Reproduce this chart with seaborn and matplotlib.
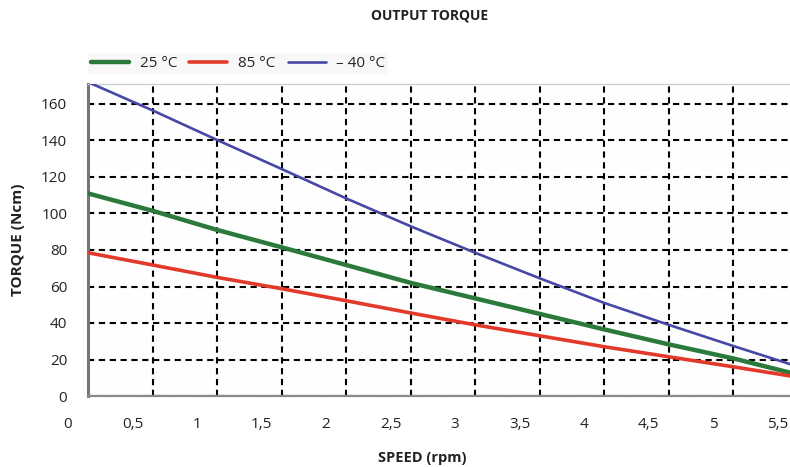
import matplotlib
matplotlib.use("Agg")
import matplotlib.pyplot as plt
import matplotlib.transforms as mtransforms
import numpy as np
import pandas as pd
import seaborn as sns

# speed values at the grid lines, plus the right edge of the chart
speed = [0.0, 0.5, 1.0, 1.5, 2.0, 2.5, 3.0, 3.5, 4.0, 4.5, 5.0, 5.44]
torque_25 = [111, 101.5, 91, 81.5, 71.8, 62, 53.5, 45, 36.5, 28.3, 20.6, 12.8]
torque_85 = [78.5, 71.8, 65, 58.8, 52.2, 45.5, 39, 33, 27, 21.5, 16, 11]
torque_m40 = [172, 156.5, 140.3, 124.4, 108.3, 93, 78.5, 64.5, 51, 39, 27.4, 17.5]

series_labels = ["25 °C", "85 °C", "– 40 °C"]
series_colors = ["#2b7a3b", "#e2392a", "#4747a6"]
series_widths = [3.2, 2.6, 1.9]

x_tick_labels = ["0", "0,5", "1", "1,5", "2", "2,5", "3", "3,5", "4", "4,5", "5", "5,5"]
y_ticks = [0, 20, 40, 60, 80, 100, 120, 140, 160]

df = pd.DataFrame({
    "speed": speed * 3,
    "torque": torque_25 + torque_85 + torque_m40,
    "temp": [series_labels[0]] * len(speed) + [series_labels[1]] * len(speed)
            + [series_labels[2]] * len(speed),
})

sns.set_style("white")
plt.rcParams["font.family"] = ["Open Sans", "DejaVu Sans"]

fig = plt.figure(figsize=(7.9, 4.67), dpi=100)
ax = fig.add_axes([88 / 790, 1 - 396 / 467, 1 - 88 / 790, (396 - 84) / 467])
ax.set_facecolor("#fefefe")

for lab, col, lw in zip(series_labels, series_colors, series_widths):
    sub = df[df["temp"] == lab]
    sns.lineplot(data=sub, x="speed", y="torque", color=col, linewidth=lw,
                 label=lab, ax=ax, zorder=3)

ax.set_xlim(0, 5.44)
ax.set_ylim(0, (396 - 84) / 1.825)

# dashed black grid
ax.set_xticks(np.arange(0.5, 5.01, 0.5))
ax.set_xticklabels([])
ax.set_xticks(np.arange(0.1, 5.44, 0.1), minor=True)
ax.set_yticks(y_ticks)
ax.set_yticklabels([str(v) for v in y_ticks], fontsize=11, color="#222222")
ax.grid(True, which="major", color="black", linestyle=(0, (3, 2.2)), linewidth=1.5)
ax.tick_params(axis="x", which="major", length=0)
ax.tick_params(axis="x", which="minor", length=3, direction="inout",
               color="#999999", width=0.8)
ax.tick_params(axis="y", which="major", length=3, pad=12, direction="out",
               color="#777777")
ax.set_xlabel("")
ax.set_ylabel("")

ax.spines["right"].set_visible(False)
ax.spines["top"].set_color("#d0d0d0")
ax.spines["top"].set_linewidth(1.0)
ax.spines["left"].set_color("#777777")
ax.spines["left"].set_linewidth(2.2)
ax.spines["bottom"].set_color("#8a8a8a")
ax.spines["bottom"].set_linewidth(1.6)

# x tick labels sit slightly left of their grid lines
offset = mtransforms.ScaledTranslation(-0.20, -0.29, fig.dpi_scale_trans)
trans = mtransforms.blended_transform_factory(ax.transData, ax.transAxes) + offset
for i, lab in enumerate(x_tick_labels):
    ax.text(i * 0.5, 0, lab, transform=trans, ha="center", va="center",
            fontsize=11, color="#222222", clip_on=False)

leg = ax.legend(loc="lower left", bbox_to_anchor=(80 / 790, 1 - 82 / 467),
                bbox_transform=fig.transFigure, ncol=3, frameon=True,
                fontsize=11, handlelength=2.5, handletextpad=0.7,
                columnspacing=0.8, borderpad=0.2)
leg.get_frame().set_facecolor("#f7f7f7")
leg.get_frame().set_edgecolor("none")
leg.get_frame().set_boxstyle("square", pad=0)

fig.text(430 / 790, 1 - 16 / 467, "OUTPUT TORQUE", ha="center", va="center",
         fontsize=10, fontweight="bold", color="#222222")
fig.text(422 / 790, 1 - 458 / 467, "SPEED (rpm)", ha="center", va="center",
         fontsize=10.5, fontweight="bold", color="#222222")
fig.text(18 / 790, 1 - 240 / 467, "TORQUE (Ncm)", ha="center", va="center",
         rotation=90, fontsize=11, fontweight="bold", color="#222222")

fig.savefig("out.png", dpi=100)
